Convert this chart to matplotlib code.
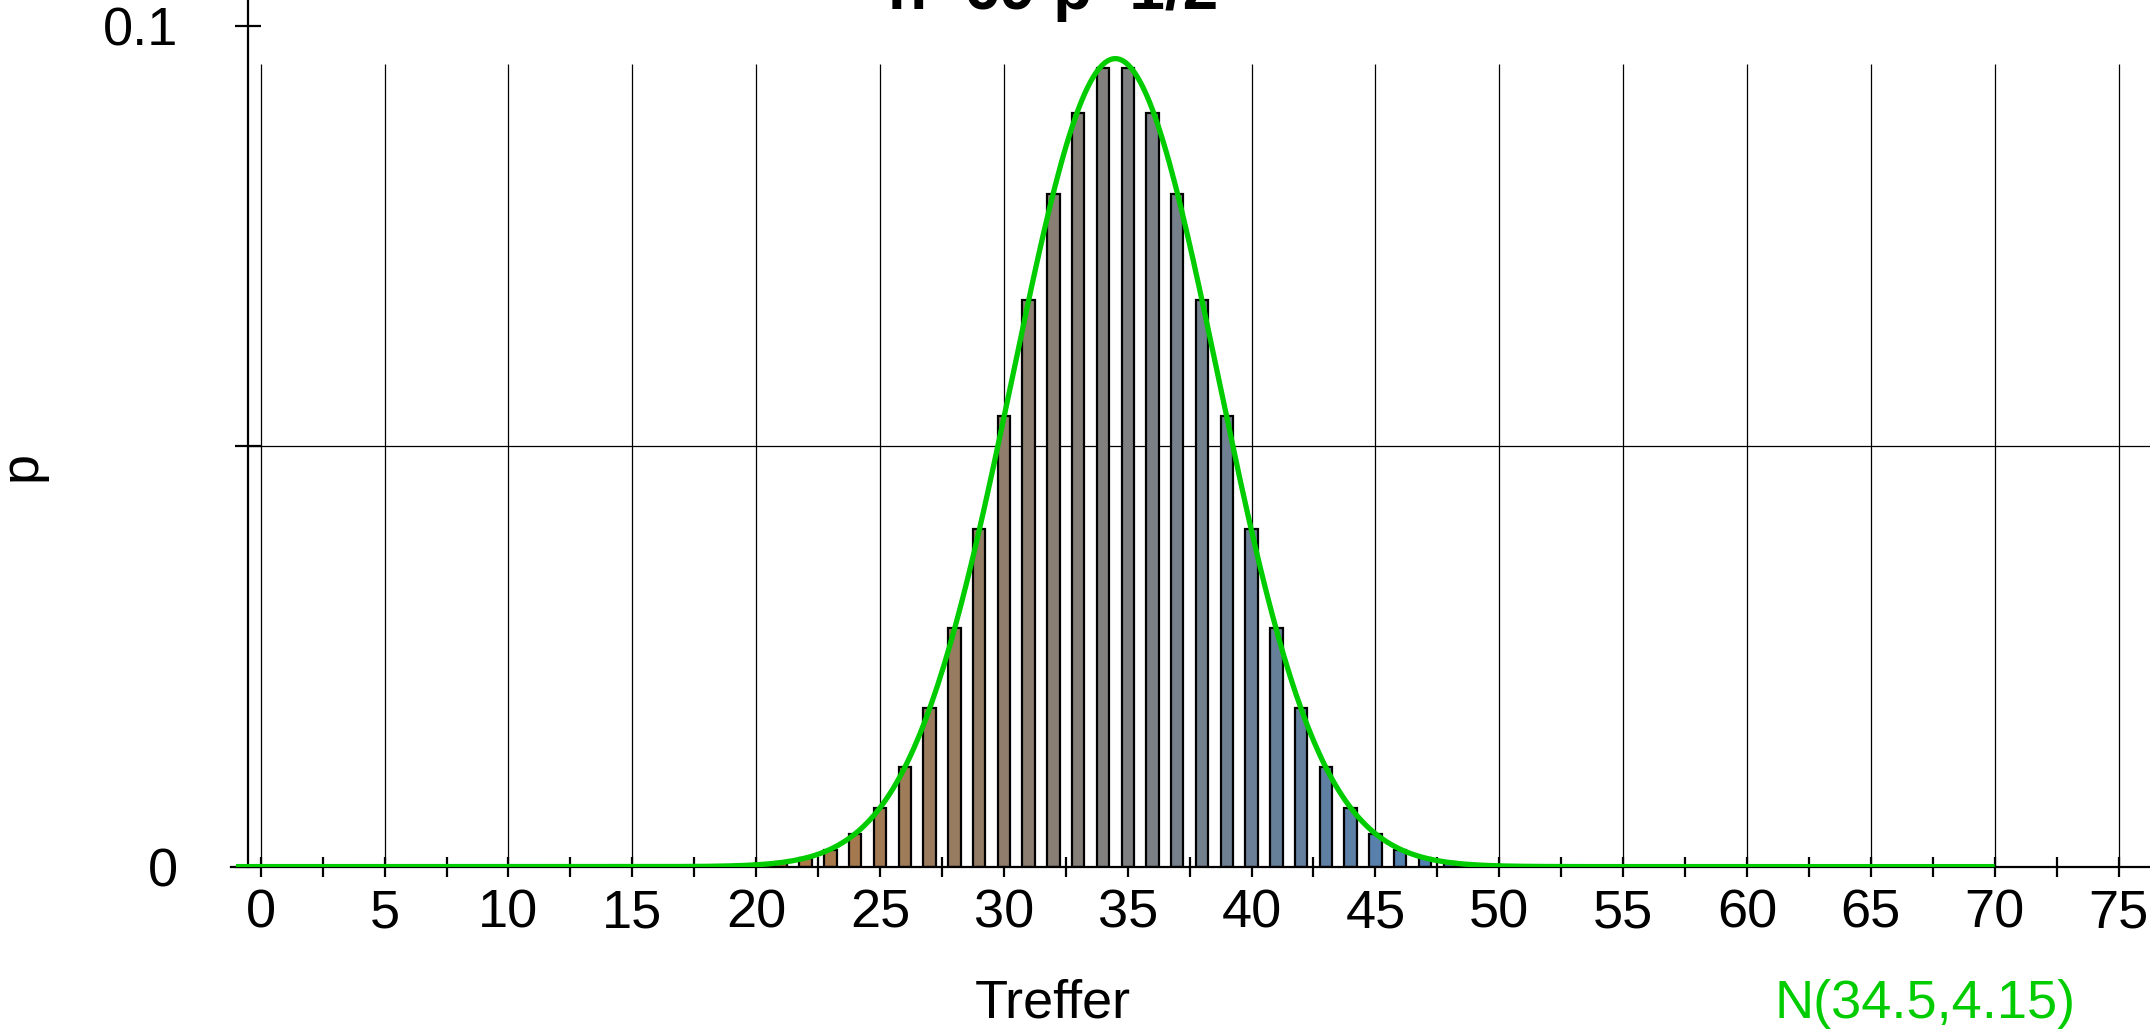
import numpy as np
import matplotlib
matplotlib.use("Agg")
import matplotlib.pyplot as plt

plt.rcParams['font.family'] = ['Liberation Sans', 'DejaVu Sans']

# Binomial n=69, p=1/2
hits = list(range(20, 50))
probs = [0.0002, 0.0005, 0.0010, 0.0020, 0.0039, 0.0070, 0.0119, 0.0189,
         0.0284, 0.0402, 0.0536, 0.0674, 0.0800, 0.0897, 0.0950, 0.0950,
         0.0897, 0.0800, 0.0674, 0.0536, 0.0402, 0.0284, 0.0189, 0.0119,
         0.0070, 0.0039, 0.0020, 0.0010, 0.0005, 0.0002]

# normal approximation shown in green
mu = 34.5
sigma = 4.15
curve_from, curve_to = -1, 70

x_major = list(range(0, 80, 5))
y_ticks = [0, 0.05, 0.1]
y_labels = ["0", "", "0.1"]

title = "n=69 p=1/2"

# bar colours: brown -> grey -> blue
left_c = np.array([172, 120, 70]) / 255
mid_c = np.array([128, 128, 128]) / 255
right_c = np.array([80, 128, 178]) / 255
colors = []
for k in hits:
    t = np.clip((k - mu) / 12.5, -1, 1)
    if t < 0:
        colors.append(mid_c + (left_c - mid_c) * (-t))
    else:
        colors.append(mid_c + (right_c - mid_c) * t)

fig = plt.figure(figsize=(21.5, 10.33), dpi=100)
ax = fig.add_axes([231 / 2150, 1 - 866.6 / 1033, 1 - 231 / 2150, 866.6 / 1033])

ax.set_xlim(-1.2, 76.27)
ax.set_ylim(0, 0.1031)

# grid
ax.vlines(x_major, 0, max(probs) + 0.0005, color="black", lw=0.9, zorder=1)
ax.hlines(0.05, -0.5, 76.27, color="black", lw=0.9, zorder=1)

ax.bar(hits, probs, width=0.5, color=colors, edgecolor="black", linewidth=1.6, zorder=2)

xs = np.linspace(curve_from, curve_to, 600)
ys = np.exp(-0.5 * ((xs - mu) / sigma) ** 2) / (sigma * np.sqrt(2 * np.pi))
ax.plot(xs, ys, color="#00cc00", lw=3.8, zorder=4, solid_capstyle="butt")

for s in ["top", "right"]:
    ax.spines[s].set_visible(False)
ax.spines["left"].set_position(("data", -0.5))
ax.spines["left"].set_linewidth(1.6)
ax.spines["bottom"].set_linewidth(1.6)
ax.spines["bottom"].set_zorder(3)

ax.set_xticks(x_major)
ax.set_xticks(np.arange(2.5, 77, 5), minor=True)
ax.tick_params(axis="x", which="both", direction="inout", length=15, width=1.6,
               labelsize=39, pad=8)
ax.set_yticks(y_ticks)
ax.set_yticklabels(y_labels)
ax.tick_params(axis="y", direction="inout", length=19, width=1.6, labelsize=39, pad=41)

fig.text(1053 / 2150, 1 - 22 / 1033, title, ha="center", va="bottom",
         fontsize=46, fontweight="bold")
fig.text(1053 / 2150, 1 - 1004 / 1033, "Treffer", ha="center", va="center", fontsize=39)
fig.text(1925 / 2150, 1 - 1004 / 1033, "N(34.5,4.15)", ha="center", va="center",
         fontsize=39, color="#00cc00")
fig.text(22 / 2150, 1 - 466 / 1033, "p", ha="center", va="center", fontsize=39,
         rotation=90)

fig.savefig("out.png", dpi=100)
